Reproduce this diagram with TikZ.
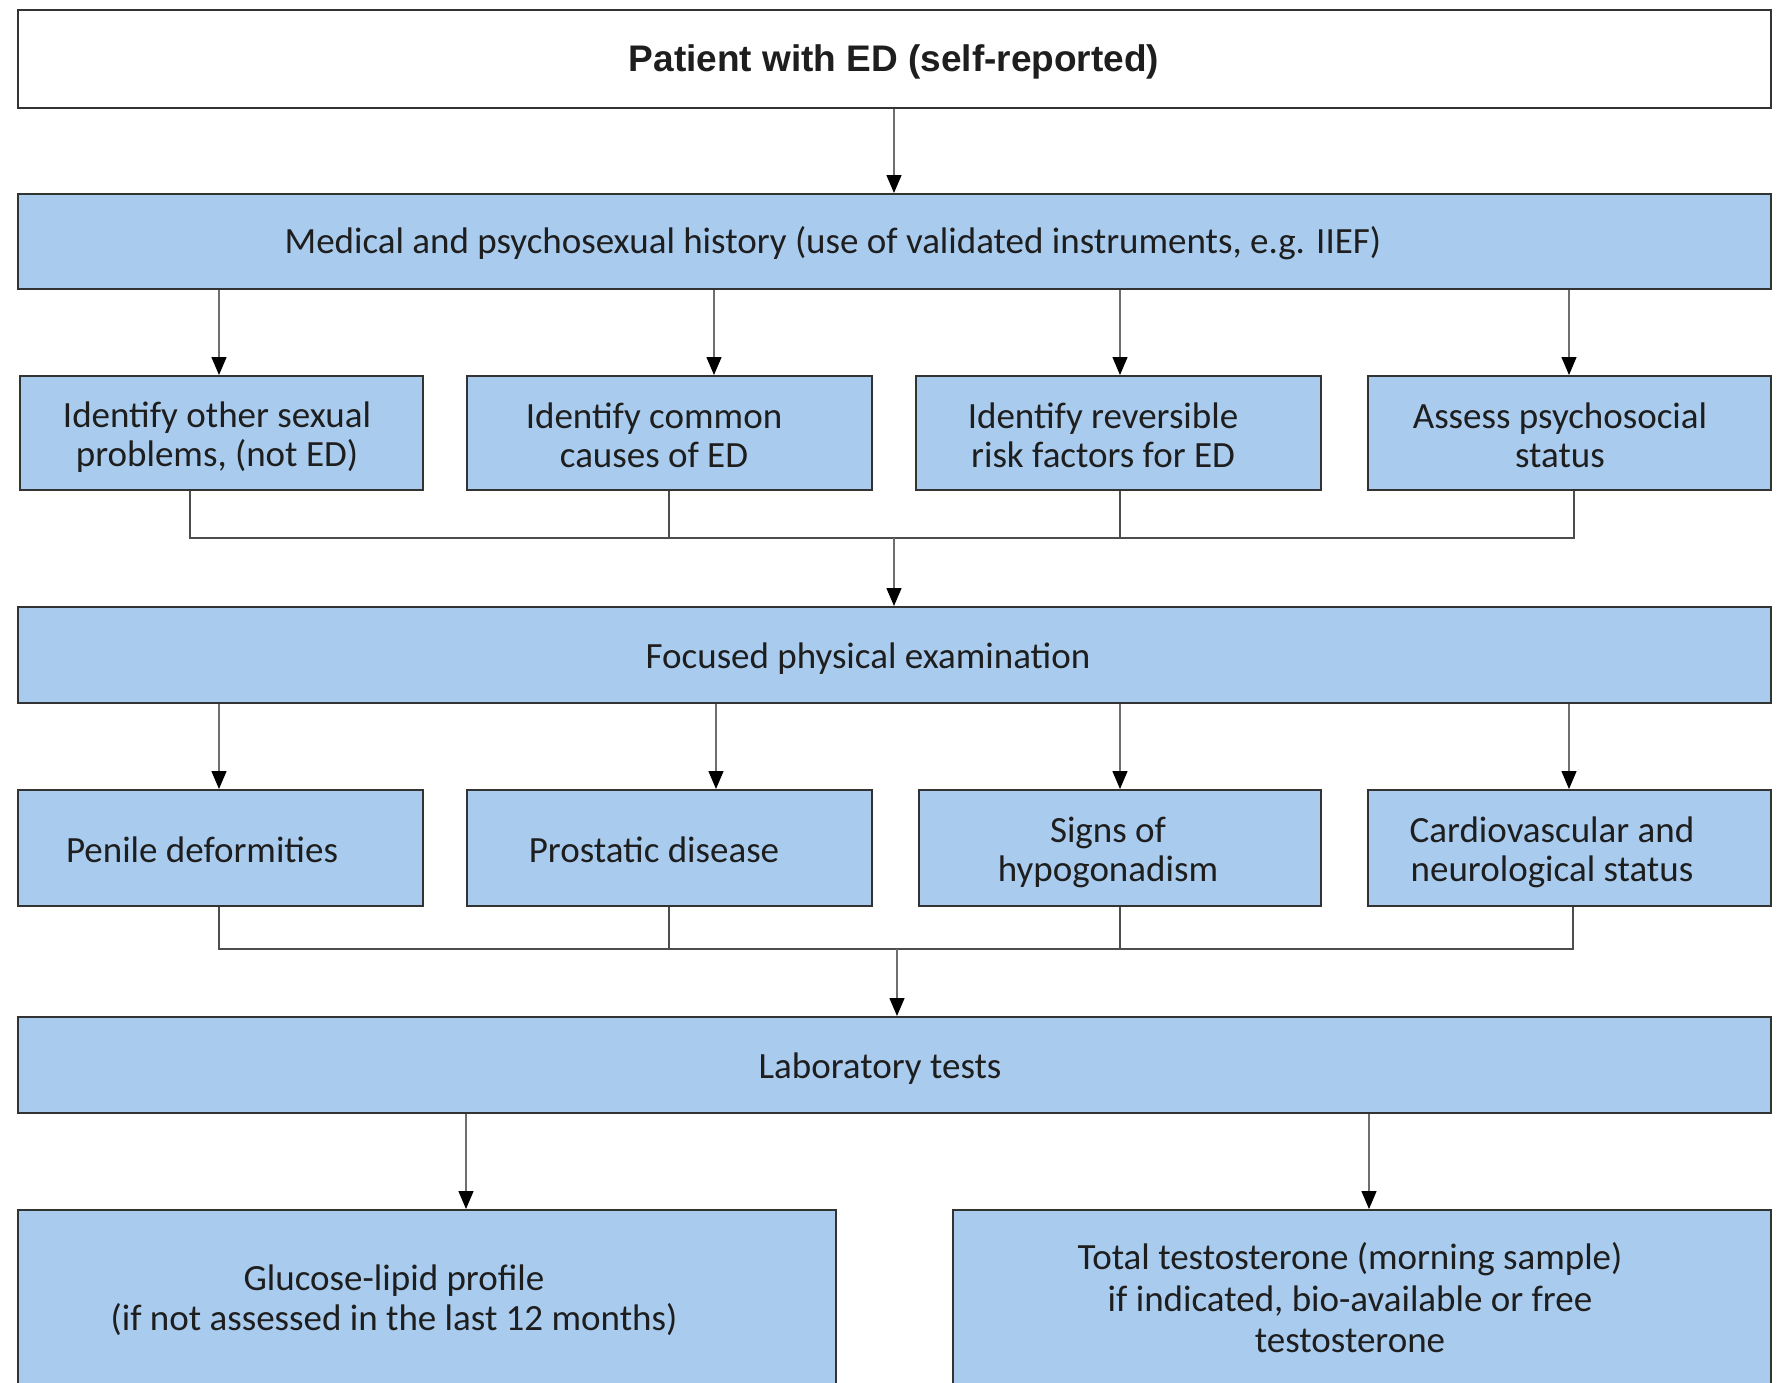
\documentclass[tikz,border=0pt]{standalone}
\usepackage{fontspec}
\setmainfont{Carlito}
\newfontfamily\arialfont{Liberation Sans}
\usetikzlibrary{arrows.meta,calc}
\definecolor{boxblue}{HTML}{A9CBEE}
\definecolor{edge}{HTML}{333333}
\definecolor{conn}{HTML}{6E6E6E}
\definecolor{txt}{HTML}{1E1E1E}
\begin{document}
\begin{tikzpicture}[x=1pt,y=-1pt,
  bluebox/.style={draw=edge,line width=1.8pt,fill=boxblue,anchor=north west,inner sep=0pt},
  whitebox/.style={draw=edge,line width=1.8pt,fill=white,anchor=north west,inner sep=0pt},
  lbl/.style={font=\fontsize{37}{39}\selectfont,text=txt,align=center,inner sep=0pt},
  arr/.style={draw=conn,line width=1.4pt,-{Triangle[width=15pt,length=18pt,fill=black,color=black]}},
  bus/.style={draw=conn!70!black,line width=1.6pt}]
\useasboundingbox (0,0) rectangle (1783,1382);
\clip (0,0) rectangle (1783,1382);
\fill[white] (0,0) rectangle (1783,1382);
% boxes
\node[whitebox,minimum width=1753pt,minimum height=98pt] (top) at (17,9) {};
\node[bluebox,minimum width=1753pt,minimum height=95pt] (med) at (17,193) {};
\node[bluebox,minimum width=403pt,minimum height=114pt] (r11) at (19,375) {};
\node[bluebox,minimum width=405pt,minimum height=114pt] (r12) at (466,375) {};
\node[bluebox,minimum width=405pt,minimum height=114pt] (r13) at (915,375) {};
\node[bluebox,minimum width=403pt,minimum height=114pt] (r14) at (1367,375) {};
\node[bluebox,minimum width=1753pt,minimum height=96pt] (foc) at (17,606) {};
\node[bluebox,minimum width=405pt,minimum height=116pt] (r21) at (17,789) {};
\node[bluebox,minimum width=405pt,minimum height=116pt] (r22) at (466,789) {};
\node[bluebox,minimum width=402pt,minimum height=116pt] (r23) at (918,789) {};
\node[bluebox,minimum width=403pt,minimum height=116pt] (r24) at (1367,789) {};
\node[bluebox,minimum width=1753pt,minimum height=96pt] (lab) at (17,1016) {};
\node[bluebox,minimum width=818pt,minimum height=200pt] (gl) at (17,1209) {};
\node[bluebox,minimum width=818pt,minimum height=200pt] (te) at (952,1209) {};
% texts
\node[font=\arialfont\bfseries\fontsize{37}{40}\selectfont,text=txt,inner sep=0pt] (ttop) at (894,62) {Patient with ED (self-reported)};
\node[lbl] (tmed) at (833,243) {Medical and psychosexual history (use of validated instruments, e.g. IIEF)};
\node[lbl] (t11) at (217,437) {Identify other sexual\\problems, (not ED)};
\node[lbl] (t12) at (654,435) {Identify common\\causes of ED};
\node[lbl] (t13) at (1103,435) {Identify reversible\\risk factors for ED};
\node[lbl] (t14) at (1560,435) {Assess psychosocial\\status};
\node[lbl] (tfoc) at (868,659) {Focused physical examination};
\node[lbl] (t21) at (202,850) {Penile deformities};
\node[lbl] (t22) at (654,850) {Prostatic disease};
\node[lbl] (t23) at (1108,852) {Signs of\\hypogonadism};
\node[lbl] (t24) at (1552,852) {Cardiovascular and\\neurological status};
\node[lbl] (tlab) at (880,1069) {Laboratory tests};
\node[lbl,font=\fontsize{37}{40}\selectfont] (tgl) at (394,1300) {Glucose-lipid profile\\(if not assessed in the last 12 months)};
\node[lbl,font=\fontsize{37}{41.5}\selectfont] (tte) at (1350,1298) {Total testosterone (morning sample)\\if indicated, bio-available or free\\testosterone};
% coordinates for connectors
\coordinate (xa1) at (219,0);
\coordinate (xa2) at (714,0);
\coordinate (xa3) at (1120,0);
\coordinate (xa4) at (1569,0);
\coordinate (xb1) at (190,0);
\coordinate (xb2) at (669,0);
\coordinate (xb3) at (1120,0);
\coordinate (xb4) at (1574,0);
\coordinate (xc1) at (219,0);
\coordinate (xc2) at (669,0);
\coordinate (xc3) at (1120,0);
\coordinate (xc4) at (1573,0);
\coordinate (xd2) at (716,0);
\coordinate (xm) at (894,0);
\coordinate (xm2) at (897,0);
\coordinate (xl1) at (466,0);
\coordinate (xl2) at (1369,0);
\coordinate (bus1) at (0,538);
\coordinate (bus2) at (0,949);
% arrows
\draw[arr] (top.south -| xm) -- (med.north -| xm);
\draw[arr] (med.south -| xa1) -- (r11.north -| xa1);
\draw[arr] (med.south -| xa2) -- (r12.north -| xa2);
\draw[arr] (med.south -| xa3) -- (r13.north -| xa3);
\draw[arr] (med.south -| xa4) -- (r14.north -| xa4);
\draw[bus] (r11.south -| xb1) -- (bus1 -| xb1) -- (bus1 -| xb4) -- (r14.south -| xb4);
\draw[bus] (r12.south -| xb2) -- (bus1 -| xb2);
\draw[bus] (r13.south -| xb3) -- (bus1 -| xb3);
\draw[arr] (bus1 -| xm) -- (foc.north -| xm);
\draw[arr] (foc.south -| xa1) -- (r21.north -| xa1);
\draw[arr] (foc.south -| xd2) -- (r22.north -| xd2);
\draw[arr] (foc.south -| xa3) -- (r23.north -| xa3);
\draw[arr] (foc.south -| xa4) -- (r24.north -| xa4);
\draw[bus] (r21.south -| xc1) -- (bus2 -| xc1) -- (bus2 -| xc4) -- (r24.south -| xc4);
\draw[bus] (r22.south -| xc2) -- (bus2 -| xc2);
\draw[bus] (r23.south -| xc3) -- (bus2 -| xc3);
\draw[arr] (bus2 -| xm2) -- (lab.north -| xm2);
\draw[arr] (lab.south -| xl1) -- (gl.north -| xl1);
\draw[arr] (lab.south -| xl2) -- (te.north -| xl2);
\end{tikzpicture}
\end{document}
